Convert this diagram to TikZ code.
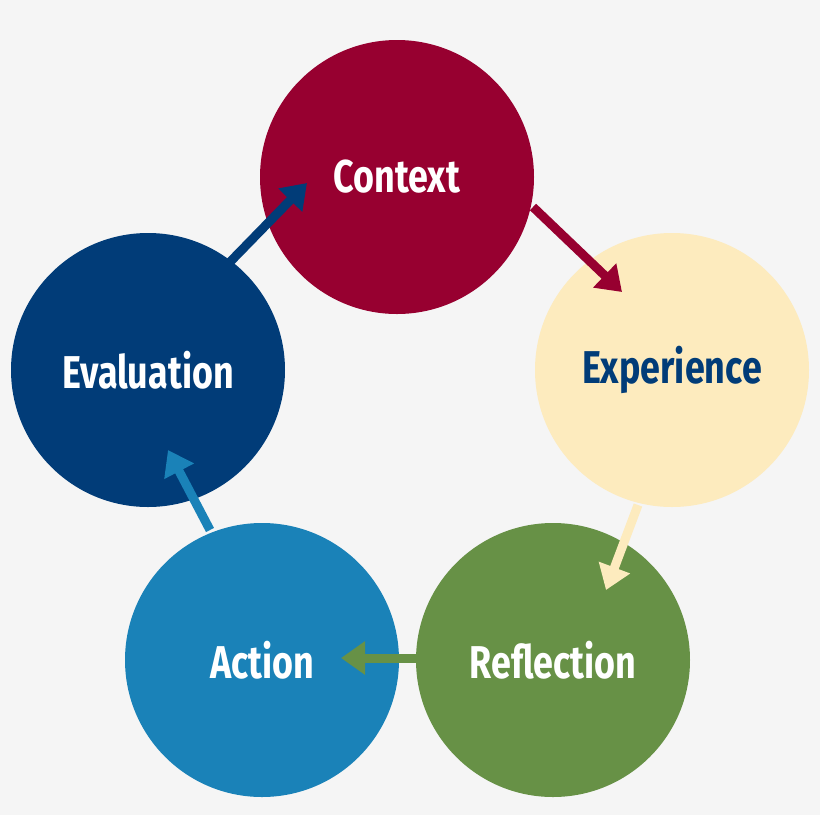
\documentclass[tikz,border=0pt]{standalone}
\usepackage{fontspec}
\setmainfont{Fira Sans}
\usetikzlibrary{arrows.meta}
\definecolor{cctx}{HTML}{970030}
\definecolor{cexp}{HTML}{FDEBBE}
\definecolor{cref}{HTML}{679146}
\definecolor{cact}{HTML}{1A82B8}
\definecolor{ceva}{HTML}{013C78}
\definecolor{bg}{HTML}{F5F5F5}
\begin{document}
\begin{tikzpicture}[x=1pt,y=-1pt,
  circ/.style={circle,minimum size=274pt,inner sep=0pt,font=\fontsize{46}{50}\selectfont\bfseries},
  arr/.style={line width=9pt,-{Triangle[length=24pt,width=32pt]}}]
\fill[bg] (0,0) rectangle (820,815);
\useasboundingbox (0,0) rectangle (820,815);
\newcommand{\nar}[1]{\scalebox{0.78}[1]{#1}}
\node[circ,fill=cctx,text=white] (ctx) at (397,177) {\nar{Context}};
\node[circ,fill=cexp,text=ceva] (exp) at (672,370) {\nar{Experience}};
\node[circ,fill=cref,text=white] (ref) at (553,660) {\nar{Reflection}};
\node[circ,fill=cact,text=white] (act) at (262,660) {\nar{Action}};
\node[circ,fill=ceva,text=white] (eva) at (148,370) {\nar{Evaluation}};
\coordinate (a1) at (533,207); \coordinate (b1) at (622,292);
\coordinate (a2) at (638,505); \coordinate (b2) at (606,590);
\coordinate (a3) at (418,658); \coordinate (b3) at (341,658);
\coordinate (a4) at (210,530); \coordinate (b4) at (168,450);
\coordinate (a5) at (230,262); \coordinate (b5) at (307,183);
\draw[arr,cctx] (a1) -- (b1);
\draw[arr,cexp] (a2) -- (b2);
\draw[arr,cref] (a3) -- (b3);
\draw[arr,cact] (a4) -- (b4);
\draw[arr,ceva] (a5) -- (b5);
\end{tikzpicture}
\end{document}
